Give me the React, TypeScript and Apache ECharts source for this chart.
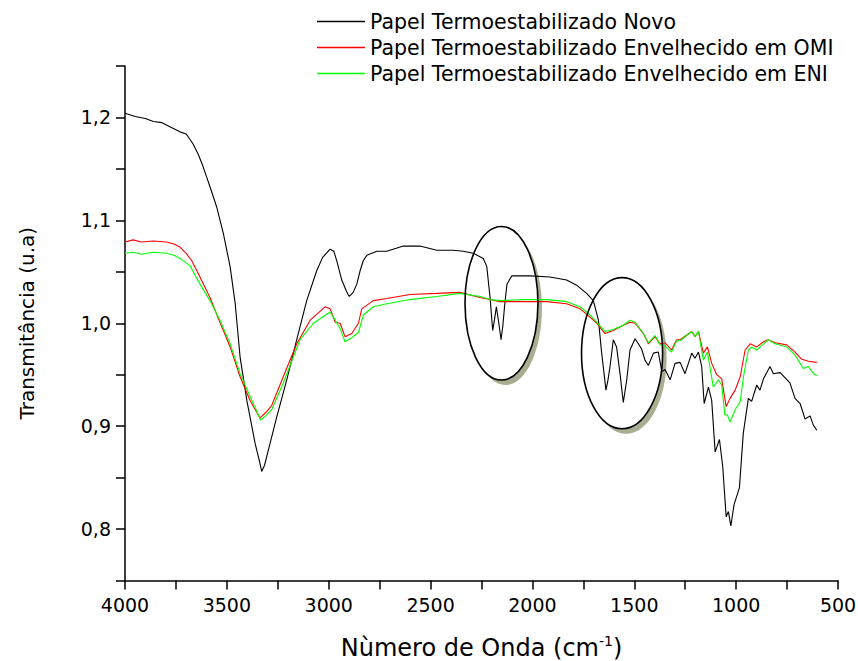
import React, { useEffect, useRef } from "react";
import * as echarts from "echarts";

const FONT = "'DejaVu Sans', 'Liberation Sans', Arial, sans-serif";

const seriesNames = [
  "Papel Termoestabilizado Novo",
  "Papel Termoestabilizado Envelhecido em OMI",
  "Papel Termoestabilizado Envelhecido em ENI",
];
const seriesColors = ["#000000", "#ff0000", "#00ff00"];

const novoWave = [
  4000, 3950, 3900, 3861, 3820, 3780, 3730, 3700, 3689, 3665, 3640, 3620, 3599, 3575, 3550, 3517, 3484, 3459, 3435,
  3402, 3361, 3340, 3329, 3315, 3296, 3255, 3206, 3157, 3108, 3059, 3030, 2993, 2975, 2961, 2936, 2915, 2905, 2899,
  2880, 2862, 2846, 2830, 2813, 2764, 2715, 2634, 2552, 2470, 2388, 2340, 2290, 2241, 2224, 2208, 2195, 2185, 2177,
  2165, 2154, 2145, 2137, 2125, 2102, 2012, 1914, 1832, 1783, 1734, 1701, 1676, 1660, 1639, 1629, 1619, 1603, 1587,
  1570, 1554, 1537, 1521, 1496, 1480, 1464, 1447, 1431, 1406, 1382, 1365, 1349, 1324, 1300, 1275, 1251, 1218, 1202,
  1185, 1169, 1157, 1136, 1120, 1103, 1082, 1066, 1049, 1038, 1026, 1010, 984, 965, 940, 924, 899, 883, 866, 850,
  834, 817, 784, 736, 711, 686, 662, 637, 621, 604,
];
const novoT = [
  1.204, 1.201, 1.199, 1.196, 1.195, 1.191, 1.186, 1.184, 1.181, 1.174, 1.164, 1.154, 1.142, 1.128, 1.113, 1.087,
  1.055, 1.019, 0.967, 0.925, 0.883, 0.866, 0.856, 0.862, 0.877, 0.909, 0.945, 0.984, 1.022, 1.051, 1.064, 1.072,
  1.07, 1.061, 1.042, 1.032, 1.028, 1.026, 1.03, 1.038, 1.051, 1.061, 1.066, 1.07, 1.07, 1.075, 1.075, 1.071, 1.071,
  1.07, 1.068, 1.063, 1.055, 1.025, 0.993, 1.005, 1.016, 1.0, 0.984, 0.998, 1.016, 1.038, 1.046, 1.046, 1.045,
  1.042, 1.037, 1.029, 1.022, 1.003, 0.971, 0.935, 0.945, 0.958, 0.984, 0.977, 0.951, 0.923, 0.945, 0.974, 0.985,
  0.98, 0.975, 0.964, 0.959, 0.971, 0.972, 0.953, 0.955, 0.945, 0.961, 0.962, 0.951, 0.971, 0.966, 0.972, 0.958,
  0.922, 0.938, 0.925, 0.875, 0.887, 0.861, 0.812, 0.817, 0.803, 0.824, 0.84, 0.893, 0.927, 0.924, 0.94, 0.935,
  0.946, 0.952, 0.958, 0.951, 0.952, 0.942, 0.927, 0.922, 0.907, 0.91, 0.901, 0.896,
];

const omiWave = [
  4000, 3960, 3920, 3861, 3796, 3760, 3730, 3700, 3673, 3632, 3583, 3534, 3484, 3435, 3386, 3337, 3310, 3280, 3223,
  3157, 3091, 3018, 2993, 2968, 2944, 2920, 2887, 2854, 2838, 2781, 2715, 2601, 2470, 2356, 2257, 2208, 2159, 2044,
  1930, 1832, 1766, 1717, 1684, 1644, 1603, 1554, 1521, 1496, 1455, 1431, 1398, 1374, 1349, 1317, 1292, 1275, 1218,
  1202, 1185, 1161, 1141, 1120, 1095, 1071, 1049, 1030, 1005, 980, 956, 931, 899, 866, 842, 809, 752, 711, 678, 645,
  604,
];
const omiT = [
  1.079, 1.081, 1.079, 1.08, 1.079, 1.077, 1.074, 1.068, 1.061, 1.045, 1.025, 1.001, 0.977, 0.948, 0.925, 0.908,
  0.913, 0.92, 0.948, 0.98, 1.003, 1.016, 1.014, 1.001, 1.0, 0.987, 0.99, 1.0, 1.014, 1.022, 1.024, 1.028, 1.029,
  1.03, 1.025, 1.023, 1.021, 1.021, 1.021, 1.019, 1.014, 1.006, 1.0, 0.99, 0.993, 0.998, 1.001, 1.0, 0.99, 0.98,
  0.987, 0.98, 0.981, 0.974, 0.984, 0.984, 0.992, 0.987, 0.992, 0.971, 0.977, 0.961, 0.95, 0.946, 0.919, 0.927,
  0.935, 0.948, 0.974, 0.98, 0.977, 0.982, 0.984, 0.981, 0.979, 0.972, 0.965, 0.963, 0.962,
];

const eniWave = [
  4000, 3960, 3920, 3861, 3796, 3760, 3730, 3681, 3632, 3583, 3534, 3484, 3435, 3386, 3334, 3310, 3280, 3223, 3141,
  3075, 2993, 2968, 2944, 2920, 2887, 2854, 2830, 2781, 2715, 2601, 2470, 2356, 2257, 2208, 2159, 2044, 1930, 1832,
  1766, 1717, 1684, 1644, 1603, 1554, 1521, 1496, 1455, 1431, 1398, 1374, 1349, 1317, 1292, 1275, 1218, 1202, 1185,
  1161, 1141, 1112, 1087, 1071, 1055, 1043, 1030, 1005, 980, 964, 940, 924, 899, 866, 842, 809, 752, 711, 670, 645,
  621, 604,
];
const eniT = [
  1.068, 1.069, 1.067, 1.069, 1.068, 1.066, 1.063, 1.056, 1.038, 1.022, 1.003, 0.98, 0.951, 0.929, 0.906, 0.91,
  0.916, 0.942, 0.984, 1.0, 1.011, 1.003, 0.995, 0.982, 0.986, 0.991, 1.008, 1.016, 1.019, 1.023, 1.026, 1.029,
  1.026, 1.023, 1.022, 1.023, 1.023, 1.021, 1.016, 1.008, 1.001, 0.992, 0.994, 0.998, 1.003, 1.001, 0.99, 0.981,
  0.988, 0.979, 0.978, 0.972, 0.983, 0.983, 0.992, 0.987, 0.992, 0.964, 0.972, 0.938, 0.945, 0.94, 0.911, 0.911,
  0.904, 0.916, 0.924, 0.948, 0.974, 0.977, 0.974, 0.98, 0.984, 0.98, 0.977, 0.969, 0.956, 0.958, 0.951, 0.949,
];

// Annotation ellipses (data coordinates: centre and half-extent)
const markCenterWave = [2152, 1560];
const markCenterT = [1.0194, 0.9709];
const markHalfWave = [179, 199];
const markHalfT = [0.0746, 0.0734];

const pair = (w: number[], t: number[]) => w.map((x, i) => [x, t[i]]);

export default function App() {
  const ref = useRef<HTMLDivElement>(null);
  useEffect(() => {
    const chart = echarts.init(ref.current!, null, { renderer: "svg" });
    const data = [pair(novoWave, novoT), pair(omiWave, omiT), pair(eniWave, eniT)];
    chart.setOption({
      animation: false,
      backgroundColor: "#ffffff",
      textStyle: { fontFamily: FONT },
      grid: { left: 125, right: 20, top: 66, bottom: 80.5, containLabel: false, outerBoundsMode: "none" },
      legend: {
        orient: "vertical",
        left: 312,
        top: 6,
        icon: "rect",
        itemWidth: 48,
        itemHeight: 1.5,
        itemGap: 5,
        data: seriesNames.map((n, i) => ({ name: n, itemStyle: { color: seriesColors[i] } })),
        textStyle: { fontSize: 20.5, color: "#000", fontFamily: FONT },
      },
      xAxis: {
        type: "value",
        inverse: true,
        min: 500,
        max: 4000,
        interval: 250,
        name: "{a|Nùmero de Onda (cm}{s|-1}{a|)}",
        nameLocation: "middle",
        nameGap: 53,
        nameTextStyle: {
          color: "#000",
          fontFamily: FONT,
          rich: {
            a: { fontSize: 24, fontFamily: FONT, color: "#000", lineHeight: 28 },
            s: { fontSize: 14, fontFamily: FONT, color: "#000", verticalAlign: "top", lineHeight: 16 },
          },
        },
        axisLine: { show: true, onZero: false, lineStyle: { color: "#000", width: 1.5 } },
        axisTick: { show: true, inside: false, length: 9, lineStyle: { color: "#000", width: 1.5 } },
        axisLabel: {
          margin: 15,
          fontSize: 19,
          color: "#000",
          fontFamily: FONT,
          formatter: (v: number) => (v % 500 === 0 ? String(v) : ""),
        },
        splitLine: { show: false },
      },
      yAxis: {
        type: "value",
        min: 0.75,
        max: 1.25,
        interval: 0.05,
        name: "Transmitância (u.a)",
        nameLocation: "middle",
        nameGap: 88,
        nameTextStyle: { fontSize: 20, color: "#000", fontFamily: FONT },
        axisLine: { show: true, onZero: false, lineStyle: { color: "#000", width: 1.5 } },
        axisTick: { show: true, inside: false, length: 9, lineStyle: { color: "#000", width: 1.5 } },
        axisLabel: {
          margin: 14,
          fontSize: 19,
          color: "#000",
          fontFamily: FONT,
          formatter: (v: number) =>
            Math.abs(v * 10 - Math.round(v * 10)) < 1e-6 ? v.toFixed(1).replace(".", ",") : "",
        },
        splitLine: { show: false },
      },
      series: seriesNames.map((name, i) => ({
        name,
        type: "line",
        data: data[i],
        symbol: "none",
        z: 5,
        color: seriesColors[i],
        itemStyle: { color: seriesColors[i] },
        lineStyle: { color: seriesColors[i], width: 1.1 },
      })),
    });

    const graphics: any[] = [];
    markCenterWave.forEach((w, i) => {
      const c = chart.convertToPixel({ gridIndex: 0 }, [w, markCenterT[i]]) as number[];
      const e = chart.convertToPixel({ gridIndex: 0 }, [w - markHalfWave[i], markCenterT[i] + markHalfT[i]]) as number[];
      const rx = Math.abs(e[0] - c[0]);
      const ry = Math.abs(e[1] - c[1]);
      graphics.push({
        type: "ellipse",
        z: 0,
        shape: { cx: c[0] + 4, cy: c[1] + 5, rx, ry },
        style: { fill: "#a7ae92", stroke: "none" },
        silent: true,
      });
      graphics.push({
        type: "ellipse",
        z: 1,
        shape: { cx: c[0], cy: c[1], rx, ry },
        style: { fill: "#ffffff", stroke: "none" },
        silent: true,
      });
      graphics.push({
        type: "ellipse",
        z: 100,
        shape: { cx: c[0], cy: c[1], rx, ry },
        style: { fill: "none", stroke: "#000", lineWidth: 1.6 },
        silent: true,
      });
    });
    chart.setOption({ graphic: { elements: graphics } });

    return () => chart.dispose();
  }, []);
  return (
    <div
      ref={ref}
      style={{ position: "fixed", left: 0, top: 0, width: 858, height: 661, background: "#fff" }}
    />
  );
}
